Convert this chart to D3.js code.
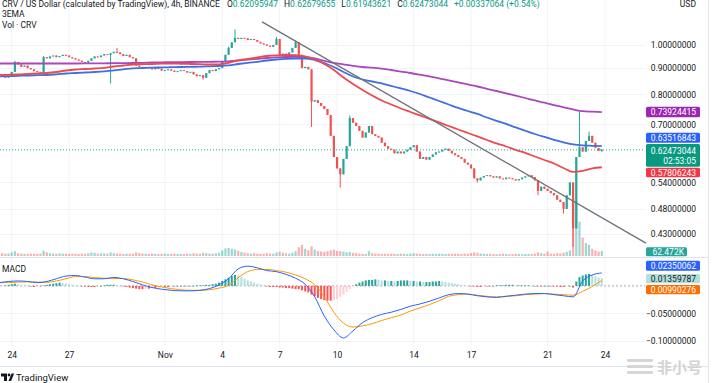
<!DOCTYPE html>
<html><head><meta charset="utf-8">
<script src="https://cdn.jsdelivr.net/npm/d3@7"></script>
<style>
html,body{margin:0;padding:0;background:#fff;}
svg{display:block;font-family:Roboto,"Liberation Sans",Arial,sans-serif;}
</style></head><body>
<svg id="c" width="719" height="383"></svg>
<script>
// ---------------- DATA ----------------
const firstCandle = "2022-10-23T08:00:00Z";   // 4h candles
const firstOpen = 0.878;
const closes = [
0.872,0.866,0.862,0.868,0.885,0.925,0.915,0.905,0.910,0.900,
0.895,0.888,0.885,0.878,0.945,0.940,0.948,0.952,0.945,0.950,
0.955,0.952,0.945,0.940,0.935,0.930,0.925,0.922,0.930,0.940,
0.948,0.945,0.952,0.958,0.955,0.962,0.968,0.965,0.958,0.950,
0.955,0.945,0.940,0.910,0.905,0.900,0.905,0.900,0.895,0.900,
0.898,0.890,0.892,0.895,0.890,0.885,0.888,0.892,0.888,0.882,
0.885,0.875,0.868,0.872,0.862,0.880,0.892,0.888,0.895,0.900,
0.925,0.955,0.985,1.010,1.030,1.025,1.030,1.028,1.020,1.025,
1.020,1.012,1.005,1.000,0.995,0.990,0.998,1.025,0.955,0.960,
0.958,0.965,0.985,1.010,0.955,0.900,0.905,0.895,0.775,0.780,
0.770,0.760,0.750,0.730,0.665,0.605,0.575,0.560,0.600,0.635,
0.720,0.705,0.695,0.680,0.660,0.675,0.695,0.670,0.665,0.660,
0.645,0.635,0.628,0.625,0.615,0.620,0.615,0.620,0.625,0.632,
0.638,0.620,0.600,0.605,0.598,0.605,0.612,0.618,0.620,0.625,
0.628,0.622,0.615,0.610,0.605,0.600,0.590,0.585,0.575,0.550,
0.545,0.552,0.556,0.558,0.555,0.552,0.555,0.550,0.548,0.552,
0.550,0.548,0.545,0.548,0.552,0.555,0.558,0.553,0.545,0.520,
0.530,0.525,0.520,0.515,0.510,0.500,0.495,0.480,0.510,0.540,
0.440,0.605,0.632,0.620,0.650,0.665,0.645,0.630,0.6214,0.62473044];
// notable wicks [candle index, price]
const wickHigh = [[5,0.93],[14,0.95],[37,0.985],[72,0.99],[74,1.07],[87,1.035],[93,1.018],[110,0.728],[182,0.74],[185,0.678],[189,0.62679655]];
const wickLow  = [[35,0.84],[64,0.855],[98,0.692],[107,0.528],[150,0.54],[169,0.51],[177,0.47],[180,0.405],[189,0.61943621]];
// volume (thousands)
const volumes = [
30,35,28,32,45,60,35,30,28,25,30,28,25,30,65,
45,35,30,28,32,30,28,25,30,28,25,30,28,35,45,
40,30,35,32,30,45,35,30,28,25,30,28,30,45,35,
30,28,25,30,28,25,28,30,25,28,30,25,28,25,30,
28,35,30,28,40,35,30,28,35,40,70,95,100,90,80,
65,50,40,35,30,35,30,28,30,35,30,28,45,55,40,
35,30,40,60,110,140,90,70,120,80,60,55,50,60,70,
80,65,60,55,45,50,40,35,30,28,25,60,35,30,28,
25,28,25,30,28,25,30,28,25,30,35,30,28,25,28,
25,28,25,30,28,25,28,25,30,28,25,30,28,35,45,
40,30,28,25,28,25,22,25,28,25,22,25,28,25,22,
25,28,25,30,45,35,28,55,30,28,35,30,40,50,70,
700,690,430,230,160,140,90,70,55,62.472];
// EMA lines, one value every 3 candles (12h)
const emaRed = [
0.8727,0.8735,0.8746,0.8766,0.8786,0.8805,0.8845,0.8904,0.8944,0.8964,
0.8984,0.9012,0.9065,0.9105,0.9146,0.9158,0.9166,0.9179,0.9183,0.9175,
0.9166,0.9158,0.9146,0.9154,0.9215,0.9311,0.9373,0.9436,0.9500,0.9529,
0.9542,0.9534,0.9487,0.9352,0.9166,0.8924,0.8630,0.8383,0.8162,0.7964,
0.7788,0.7650,0.7515,0.7398,0.7284,0.7171,0.7060,0.6950,0.6842,0.6736,
0.6632,0.6529,0.6428,0.6342,0.6244,0.6161,0.6065,0.5971,0.5879,0.5762,
0.5660,0.5685,0.5749,0.57806243];
const emaBlue = [
0.8669,0.8680,0.8696,0.8708,0.8719,0.8727,0.8754,0.8786,0.8805,0.8825,
0.8845,0.8872,0.8912,0.8952,0.8992,0.9004,0.9016,0.9028,0.9036,0.9044,
0.9052,0.9056,0.9073,0.9085,0.9113,0.9166,0.9215,0.9257,0.9311,0.9352,
0.9382,0.9394,0.9394,0.9331,0.9207,0.9044,0.8845,0.8669,0.8553,0.8477,
0.8402,0.8309,0.8217,0.8125,0.8017,0.7893,0.7771,0.7650,0.7532,0.7431,
0.7333,0.7219,0.7113,0.7013,0.6904,0.6803,0.6706,0.6617,0.6535,0.6462,
0.6399,0.6371,0.6362,0.63516843];
const emaPurple = [
0.9187,0.9187,0.9187,0.9187,0.9187,0.9187,0.9187,0.9187,0.9187,0.9189,
0.9191,0.9195,0.9199,0.9203,0.9207,0.9215,0.9228,0.9236,0.9240,0.9244,
0.9248,0.9253,0.9257,0.9261,0.9277,0.9311,0.9348,0.9382,0.9415,0.9440,
0.9457,0.9466,0.9457,0.9394,0.9298,0.9215,0.9154,0.9093,0.9044,0.9020,
0.8980,0.8924,0.8861,0.8805,0.8739,0.8669,0.8592,0.8523,0.8447,0.8365,
0.8290,0.8206,0.8125,0.8043,0.7960,0.7875,0.7788,0.7712,0.7626,0.7555,
0.7482,0.7425,0.7408,0.73924415];
// MACD line & signal, one value every 3 candles
const macdLine = [
0.006,0.008,0.009,0.008,0.006,0.008,0.013,0.018,0.019,0.016,
0.013,0.013,0.0155,0.013,0.008,0.002,-0.003,-0.006,-0.008,-0.009,
-0.009,-0.008,-0.005,0.002,0.013,0.031,0.036,0.033,0.028,0.026,
0.021,0.014,0.003,-0.020,-0.055,-0.080,-0.095,-0.082,-0.067,-0.058,
-0.052,-0.048,-0.043,-0.037,-0.033,-0.028,-0.022,-0.016,-0.014,-0.015,
-0.018,-0.020,-0.021,-0.019,-0.017,-0.015,-0.014,-0.014,-0.016,-0.018,
-0.020,0.009,0.020,0.02350062];
const signalLine = [
0.006,0.006,0.007,0.0075,0.007,0.0065,0.009,0.013,0.017,0.017,
0.015,0.014,0.0135,0.0135,0.011,0.007,0.002,-0.002,-0.005,-0.007,
-0.008,-0.008,-0.007,-0.004,0.001,0.015,0.026,0.030,0.030,0.028,
0.025,0.020,0.013,0.002,-0.020,-0.048,-0.068,-0.075,-0.073,-0.069,
-0.063,-0.058,-0.053,-0.046,-0.040,-0.034,-0.027,-0.019,-0.016,-0.015,
-0.017,-0.019,-0.020,-0.019,-0.018,-0.016,-0.015,-0.014,-0.015,-0.016,
-0.017,-0.010,-0.001,0.00990276];
// MACD histogram per candle
const histogram = [
-0.002,-0.001,0.001,0.002,0.003,0.004,0.003,0.002,0.001,0.000,
-0.001,-0.002,-0.001,-0.001,0.001,0.002,0.003,0.004,0.005,0.006,
0.005,0.004,0.003,0.002,0.001,0.000,-0.001,-0.001,-0.002,-0.002,
-0.002,-0.001,0.000,0.001,0.002,0.002,0.002,0.001,0.000,-0.001,
-0.002,-0.003,-0.004,-0.005,-0.006,-0.006,-0.005,-0.005,-0.004,-0.004,
-0.003,-0.002,-0.002,-0.002,-0.001,-0.001,-0.001,0.000,0.000,-0.001,
0.000,0.000,0.001,0.001,0.001,0.002,0.002,0.003,0.004,0.006,
0.009,0.012,0.015,0.018,0.020,0.019,0.016,0.013,0.010,0.008,
0.006,0.004,0.003,0.001,-0.001,-0.002,-0.002,-0.002,-0.003,-0.003,
-0.004,-0.004,-0.005,-0.006,-0.006,-0.008,-0.010,-0.012,-0.016,-0.019,
-0.022,-0.024,-0.026,-0.027,-0.027,-0.026,-0.024,-0.020,-0.016,-0.011,
-0.006,-0.002,0.003,0.006,0.008,0.010,0.011,0.011,0.012,0.011,
0.010,0.010,0.009,0.009,0.008,0.009,0.010,0.010,0.010,0.009,
0.009,0.008,0.008,0.007,0.007,0.007,0.008,0.008,0.009,0.008,
0.007,0.006,0.005,0.004,0.003,0.002,0.001,0.000,-0.001,-0.001,
-0.002,-0.002,-0.001,-0.001,-0.001,0.000,0.001,0.001,0.001,0.002,
0.002,0.002,0.001,0.001,0.001,0.001,0.001,0.000,0.000,-0.001,
-0.001,0.000,0.000,-0.001,-0.001,-0.001,-0.002,-0.002,-0.001,0.000,
-0.003,0.008,0.016,0.019,0.021,0.022,0.020,0.017,0.015,0.01359787];
// trend line [time, price]
const trendLine = [["2022-11-06T02:00:00Z",1.106],["2022-11-26T03:20:00Z",0.412]];
// axes
const xTickDates = ["2022-10-24","2022-10-27","2022-11-01","2022-11-04","2022-11-07","2022-11-10","2022-11-14","2022-11-17","2022-11-21","2022-11-24"];
const xTickLabels = ["24","27","Nov","4","7","10","14","17","21","24"];
const priceTicks = [1.0,0.9,0.8,0.7,0.54,0.48,0.43];
const macdTicks = [-0.05,-0.1];
const headerTitle = "CRV / US Dollar (calculated by TradingView), 4h, BINANCE";
const headerOHLC = [["O","0.62095947"],["H","0.62679655"],["L","0.61943621"],["C","0.62473044"]];
const headerChange = "+0.00337064 (+0.54%)";
const countdown = "02:53:05";
const volumeLabel = "62.472K";

// ---------------- DRAW ----------------
const svg = d3.select("#c");
const H4 = 4*3600*1000;
const t0 = new Date(firstCandle).getTime();
const candles = closes.map((c,i)=>{
  const o = i===0 ? firstOpen : closes[i-1];
  return {t:new Date(t0+i*H4), o, c, h:Math.max(o,c), l:Math.min(o,c), v:volumes[i], hist:histogram[i]};
});
wickHigh.forEach(([i,p])=>{candles[i].h=Math.max(candles[i].h,p);});
wickLow.forEach(([i,p])=>{candles[i].l=Math.min(candles[i].l,p);});

const x = d3.scaleUtc().domain([new Date("2022-10-24T00:00:00Z"), new Date("2022-11-24T00:00:00Z")]).range([11.7,605]);
const y = d3.scaleLog().domain([0.43,1.0]).range([233.5,44.5]);
const yv = d3.scaleLinear().domain([0,100]).range([256,248]);
const ym = d3.scaleLinear().domain([-0.1,-0.05]).range([340.7,313.3]);
const plotR = 645;

const UP="#26a69a", DN="#ef5350";

// grid
const grid = svg.append("g");
grid.selectAll(".vg").data(xTickDates).join("line")
  .attr("x1",d=>x(new Date(d+"T00:00:00Z"))).attr("x2",d=>x(new Date(d+"T00:00:00Z")))
  .attr("y1",0).attr("y2",346).attr("stroke","#f0f3fa").attr("stroke-width",1);
grid.selectAll(".hg").data(priceTicks).join("line")
  .attr("x1",0).attr("x2",plotR).attr("y1",d=>Math.round(y(d))+0.5).attr("y2",d=>Math.round(y(d))+0.5)
  .attr("stroke","#f0f3fa");
grid.selectAll(".hm").data(macdTicks).join("line")
  .attr("x1",0).attr("x2",plotR).attr("y1",d=>Math.round(ym(d))+0.5).attr("y2",d=>Math.round(ym(d))+0.5)
  .attr("stroke","#f0f3fa");

// separators
svg.append("line").attr("x1",0).attr("x2",708).attr("y1",257.5).attr("y2",257.5).attr("stroke","#e0e3eb");
svg.append("line").attr("x1",0).attr("x2",708).attr("y1",366.5).attr("y2",366.5).attr("stroke","#e0e3eb");
svg.append("line").attr("x1",708.5).attr("x2",708.5).attr("y1",0).attr("y2",383).attr("stroke","#e0e3eb");

// volume
svg.append("g").selectAll("rect").data(candles).join("rect")
  .attr("x",d=>x(d.t)-1.1).attr("width",2.2)
  .attr("y",d=>yv(d.v)).attr("height",d=>yv(0)-yv(d.v))
  .attr("fill",d=>d.c>=d.o?"rgba(38,166,154,0.45)":"rgba(239,83,80,0.45)");

// MACD zero line
svg.append("line").attr("x1",0).attr("x2",plotR).attr("y1",ym(0)).attr("y2",ym(0))
  .attr("stroke","#9598a1").attr("stroke-dasharray","2,2").attr("stroke-width",0.8);

// histogram
svg.append("g").selectAll("rect").data(candles).join("rect")
  .attr("x",d=>x(d.t)-1).attr("width",2)
  .attr("y",d=>Math.min(ym(0),ym(d.hist))).attr("height",d=>Math.max(0.6,Math.abs(ym(d.hist)-ym(0))))
  .attr("fill",(d,i)=>{
    const prev = i>0 ? candles[i-1].hist : d.hist;
    if (d.hist>=0) return d.hist>=prev ? "#26a69a" : "#b2dfdb";
    return d.hist<=prev ? "#ff5252" : "#ffcdd2";
  });

// MACD lines
const sampleT = macdLine.map((_,k)=>new Date(t0+3*k*H4));
const lm = d3.line().x((d,k)=>x(sampleT[k])).y(d=>ym(d)).curve(d3.curveMonotoneX);
svg.append("path").attr("d",lm(signalLine)).attr("fill","none").attr("stroke","#ff9800").attr("stroke-width",1);
svg.append("path").attr("d",lm(macdLine)).attr("fill","none").attr("stroke","#2962ff").attr("stroke-width",1);

// candles
const cg = svg.append("g");
cg.selectAll("line").data(candles).join("line")
  .attr("x1",d=>x(d.t)).attr("x2",d=>x(d.t)).attr("y1",d=>y(d.h)).attr("y2",d=>y(d.l))
  .attr("stroke",d=>d.c>=d.o?UP:DN).attr("stroke-width",1);
cg.selectAll("rect").data(candles).join("rect")
  .attr("x",d=>x(d.t)-1.1).attr("width",2.2)
  .attr("y",d=>y(Math.max(d.o,d.c))).attr("height",d=>Math.max(1,Math.abs(y(d.o)-y(d.c))))
  .attr("fill",d=>d.c>=d.o?UP:DN);

// EMAs
const emaT = emaRed.map((_,k)=>new Date(t0+3*k*H4));
const le = d3.line().x((d,k)=>x(emaT[k])).y(d=>y(d)).curve(d3.curveMonotoneX);
svg.append("path").attr("d",le(emaPurple)).attr("fill","none").attr("stroke","#ab47bc").attr("stroke-width",1.8);
svg.append("path").attr("d",le(emaBlue)).attr("fill","none").attr("stroke","#3f6fe0").attr("stroke-width",1.8);
svg.append("path").attr("d",le(emaRed)).attr("fill","none").attr("stroke","#ec4a4e").attr("stroke-width",1.8);

// trend line
svg.append("line")
  .attr("x1",x(new Date(trendLine[0][0]))).attr("y1",y(trendLine[0][1]))
  .attr("x2",x(new Date(trendLine[1][0]))).attr("y2",y(trendLine[1][1]))
  .attr("stroke","#6f7279").attr("stroke-width",1.3);

// current price line
const last = candles[candles.length-1];
svg.append("line").attr("x1",0).attr("x2",plotR).attr("y1",y(last.c)).attr("y2",y(last.c))
  .attr("stroke","#26a69a").attr("stroke-dasharray","1,2").attr("stroke-width",1);

// x axis
const xa = svg.append("g").attr("transform","translate(0,352)")
  .call(d3.axisBottom(x).tickValues(xTickDates.map(d=>new Date(d+"T00:00:00Z"))).tickFormat((d,i)=>xTickLabels[i]).tickSize(0));
xa.select(".domain").remove();
xa.selectAll("text").attr("font-size","8.5px").attr("fill","#131722").attr("font-family","Roboto, Liberation Sans, sans-serif").attr("dy","0.35em");

// price axis
function rightAxis(scale, ticks){
  const g = svg.append("g").attr("transform","translate(696,0)")
    .call(d3.axisRight(scale).tickValues(ticks).tickFormat(d3.format(".8f")).tickSize(0));
  g.select(".domain").remove();
  g.selectAll("text").attr("x",0).attr("text-anchor","end").attr("font-size","8.5px")
    .attr("fill","#131722").attr("font-family","Roboto, Liberation Sans, sans-serif");
}
rightAxis(y, priceTicks);
rightAxis(ym, macdTicks);

// value tags
function tag(y0, y1, bg, fg, lines){
  svg.append("rect").attr("x",646).attr("y",y0).attr("width",54).attr("height",y1-y0).attr("rx",1.5).attr("fill",bg);
  lines.forEach(([txt,cy])=>{
    svg.append("text").attr("x",696).attr("y",cy+3).attr("text-anchor","end")
      .attr("font-size","8.5px").attr("fill",fg).text(txt);
  });
}
const f8 = d3.format(".8f");
tag(106.7,117.3,"#9c27b0","#fff",[[f8(emaPurple[emaPurple.length-1]),112]]);
tag(132.7,142.7,"#2962ff","#fff",[[f8(emaBlue[emaBlue.length-1]),137.7]]);
tag(144,166.7,"#089981","#fff",[[f8(last.c),150.5],[countdown,160.5]]);
tag(167.7,177.3,"#f23645","#fff",[[f8(emaRed[emaRed.length-1]),172.5]]);
// volume tag
svg.append("rect").attr("x",646).attr("y",247.3).attr("width",41).attr("height",9).attr("rx",1.5).attr("fill","#26a69a");
svg.append("text").attr("x",684).attr("y",254.6).attr("text-anchor","end").attr("font-size","8.5px").attr("fill","#fff").text(volumeLabel);
tag(260.7,270.7,"#2962ff","#fff",[[f8(macdLine[macdLine.length-1]),265.7]]);
tag(274,283.3,"#b2dfdb","#131722",[[f8(histogram[histogram.length-1]),278.6]]);
tag(285,294.3,"#ff6d00","#fff",[[f8(signalLine[signalLine.length-1]),289.6]]);

// header texts
const hdr = svg.append("text").attr("x",2).attr("y",7).attr("font-size","8.5px").attr("fill","#131722");
hdr.append("tspan").text(headerTitle);
headerOHLC.forEach(([k,v],i)=>{
  hdr.append("tspan").attr("dx",i===0?7:6).attr("fill","#131722").text(k);
  hdr.append("tspan").attr("fill","#089981").text(v);
});
hdr.append("tspan").attr("dx",6).attr("fill","#089981").text(headerChange);
svg.append("text").attr("x",696).attr("y",7).attr("text-anchor","end").attr("font-size","8.5px").attr("fill","#131722").text("USD");
svg.append("text").attr("x",2).attr("y",17).attr("font-size","8.5px").attr("fill","#131722").text("3EMA");
svg.append("text").attr("x",2).attr("y",28).attr("font-size","8.5px").attr("fill","#131722").text("Vol · CRV");
svg.append("text").attr("x",2).attr("y",272).attr("font-size","8.5px").attr("fill","#131722").text("MACD");

// TradingView logo
const lg = svg.append("g").attr("fill","#131722");
lg.append("path").attr("d","M1,373.5 h6 v7.5 h-3 v-4.5 h-3 z");
lg.append("circle").attr("cx",9).attr("cy",375).attr("r",1.4);
lg.append("path").attr("d","M8.5,381 l3,-7.5 h2.6 l-3,7.5 z");
svg.append("text").attr("x",16).attr("y",380.5).attr("font-size","9.5px").attr("fill","#131722").text("TradingView");

// watermark
const wm = svg.append("g").attr("fill","#d6d6d6");
wm.append("rect").attr("x",627).attr("y",359).attr("width",26).attr("height",3).attr("rx",1);
wm.append("rect").attr("x",627).attr("y",365).attr("width",26).attr("height",3).attr("rx",1);
wm.append("rect").attr("x",627).attr("y",371).attr("width",26).attr("height",3).attr("rx",1);
svg.append("text").attr("x",657).attr("y",373).attr("font-size","15px").attr("font-weight","bold")
  .attr("font-family","Noto Sans CJK SC, sans-serif").attr("fill","#d3d3d3").text("非小号");
</script>
</body></html>
